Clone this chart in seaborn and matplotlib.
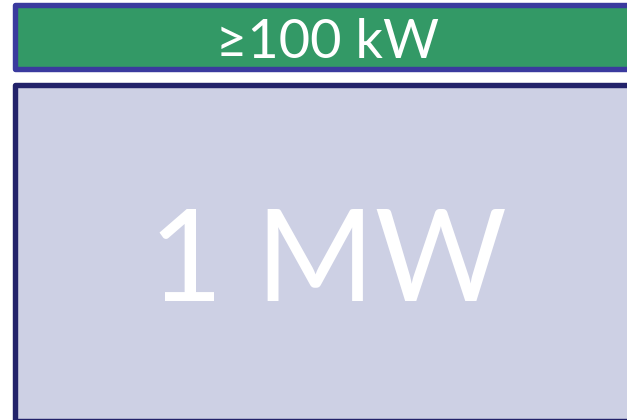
import matplotlib
matplotlib.use("Agg")
import matplotlib.pyplot as plt
import seaborn as sns

# box labels, top to bottom
labels = ["≥100 kW", "1 MW"]
fills = ["#339966", "#cdd0e4"]
edges = ["#3a3a9e", "#22226a"]

# layout in pixel units (axes spans the whole figure)
lefts = [14.8, 15.0]
tops = [5.0, 84.8]
bottoms = [69.0, 420.5]
text_y = [38.5, 254.0]
text_size = [39, 92]

sns.set_theme(style="white")
plt.rcParams["font.family"] = ["Lato", "DejaVu Sans"]

fig = plt.figure(figsize=(6.27, 4.2), dpi=100)
ax = fig.add_axes([0, 0, 1, 1])

for lab, fc, ec, x0, t, b, ty, fs in zip(labels, fills, edges, lefts, tops, bottoms, text_y, text_size):
    ax.bar(x0, b - t, width=700, bottom=t, align="edge", color=fc,
           edgecolor=ec, linewidth=3.9, joinstyle="round")
    ax.text(328, ty, lab, color="white", fontsize=fs, ha="center", va="center_baseline")

ax.set_xlim(0, 627)
ax.set_ylim(420, 0)
ax.axis("off")

fig.savefig("out.png", dpi=100, facecolor="white")
